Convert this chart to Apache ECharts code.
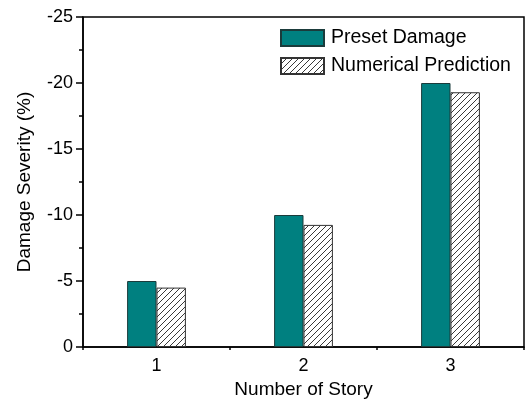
<!DOCTYPE html>
<html>
<head>
<meta charset="utf-8">
<style>
  html, body { margin: 0; padding: 0; background: #fff; }
  #chart { width: 526px; height: 406px; }
</style>
<script src="https://cdn.jsdelivr.net/npm/echarts@6/dist/echarts.min.js"></script>
</head>
<body>
<div id="chart"></div>
<script>
// Story numbers on the x axis
const stories = ['1', '2', '3'];
// Damage severity per story (%)
const presetDamage = [-5, -10, -20];
const numericalPrediction = [-4.5, -9.25, -19.3];
// Y axis range and step
const yMin = -25;
const yMax = 0;
const yStep = 5;

// Diagonal hatch fill for the prediction bars
function makeHatch() {
  const s = 6;
  const c = document.createElement('canvas');
  c.width = s; c.height = s;
  const ctx = c.getContext('2d');
  ctx.fillStyle = '#fff';
  ctx.fillRect(0, 0, s, s);
  ctx.strokeStyle = '#222';
  ctx.lineWidth = 0.9;
  ctx.beginPath();
  ctx.moveTo(0, s); ctx.lineTo(s, 0);
  ctx.moveTo(-1, 1); ctx.lineTo(1, -1);
  ctx.moveTo(s - 1, s + 1); ctx.lineTo(s + 1, s - 1);
  ctx.stroke();
  return c;
}

const font = 'Liberation Sans, Arial, sans-serif';
const chart = echarts.init(document.getElementById('chart'), null, { renderer: 'canvas' });

chart.setOption({
  animation: false,
  backgroundColor: '#fff',
  textStyle: { fontFamily: font, color: '#000' },
  grid: {
    left: 83, right: 2, top: 17, bottom: 59,
    show: true, borderColor: '#000', borderWidth: 1.5, backgroundColor: 'transparent'
  },
  legend: {
    orient: 'vertical',
    left: 275, top: 23,
    itemWidth: 43, itemHeight: 16, itemGap: 8,
    icon: 'rect',
    textStyle: { fontFamily: font, fontSize: 19.5, color: '#000', padding: [0, 0, 0, 2] },
    data: ['Preset Damage', 'Numerical Prediction']
  },
  xAxis: [
    {
      type: 'category',
      data: stories,
      name: 'Number of Story',
      nameLocation: 'middle',
      nameGap: 30,
      nameTextStyle: { fontFamily: font, fontSize: 19, color: '#000' },
      axisLine: { lineStyle: { color: '#000', width: 1.5 } },
      axisTick: { alignWithLabel: true, length: 6, lineStyle: { color: '#000', width: 1.5 } },
      axisLabel: { fontFamily: font, fontSize: 18, color: '#000', margin: 10 },
      splitLine: { show: false }
    },
    {
      type: 'category',
      data: stories,
      position: 'bottom',
      axisLine: { show: false },
      axisTick: { show: true, length: 3, lineStyle: { color: '#000', width: 1.5 } },
      axisLabel: { show: false },
      splitLine: { show: false }
    }
  ],
  yAxis: {
    type: 'value',
    inverse: true,
    min: yMin, max: yMax, interval: yStep,
    name: 'Damage Severity (%)',
    nameLocation: 'middle',
    nameGap: 49,
    nameTextStyle: { fontFamily: font, fontSize: 19, color: '#000' },
    axisLine: { show: true, lineStyle: { color: '#000', width: 1.5 } },
    axisTick: { show: true, length: 7, lineStyle: { color: '#000', width: 1.5 } },
    minorTick: { show: true, splitNumber: 2, length: 4, lineStyle: { color: '#000', width: 1.5 } },
    axisLabel: { fontFamily: font, fontSize: 18, color: '#000', margin: 10 },
    splitLine: { show: false }
  },
  series: [
    {
      name: 'Preset Damage',
      type: 'bar',
      xAxisIndex: 0,
      data: presetDamage,
      barWidth: '20%',
      barGap: '0%',
      itemStyle: { color: '#008080', borderColor: '#1b3b3b', borderWidth: 1 }
    },
    {
      name: 'Numerical Prediction',
      type: 'bar',
      xAxisIndex: 0,
      data: numericalPrediction,
      barWidth: '20%',
      barGap: '0%',
      itemStyle: {
        color: { image: makeHatch(), repeat: 'repeat' },
        borderColor: '#333',
        borderWidth: 1
      }
    }
  ]
});
</script>
</body>
</html>
